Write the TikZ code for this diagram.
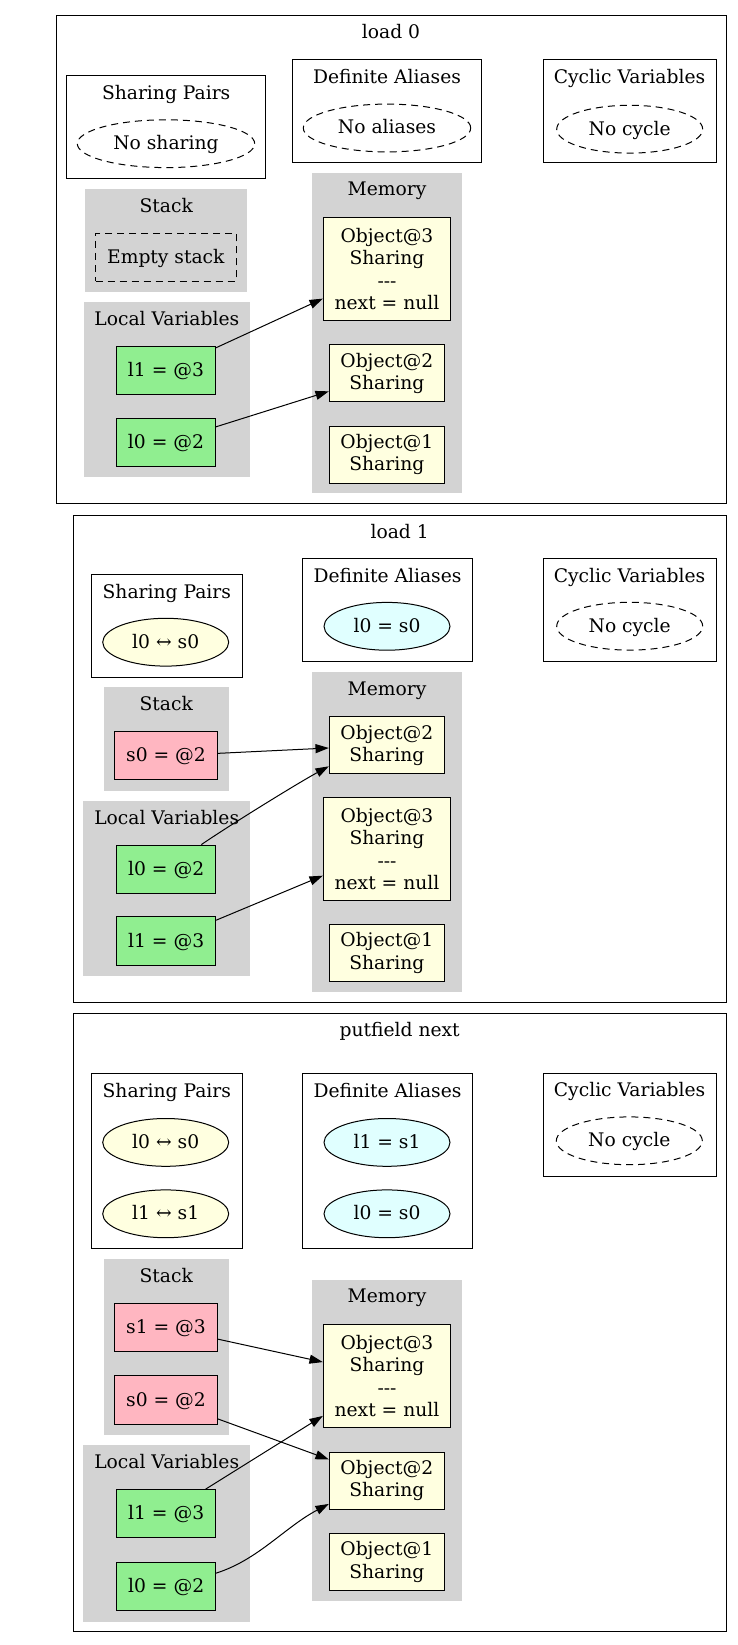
\documentclass[tikz,border=0pt]{standalone}
\usepackage{fontspec}
\setmainfont{DejaVu Serif}
\usetikzlibrary{shapes.geometric,arrows.meta}
\definecolor{gclr}{HTML}{D3D3D3}
\definecolor{vgreen}{HTML}{90EE90}
\definecolor{vpink}{HTML}{FFB6C1}
\definecolor{oyellow}{HTML}{FFFFE0}
\definecolor{acyan}{HTML}{E0FFFF}
\newcommand\gvfont{\fontsize{18.7}{22.4}\selectfont}
\tikzset{
  every node/.style={font=\gvfont, inner sep=0pt},
  frame/.style={draw, line width=1pt},
  grayclu/.style={fill=gclr},
  ttl/.style={anchor=base},
  tl/.style={text height=15pt, text depth=3pt},
  varbox/.style={draw, line width=1pt, rectangle, tl},
  locvar/.style={varbox, fill=vgreen, minimum width=98.5pt, minimum height=48.2pt},
  stkvar/.style={varbox, fill=vpink, minimum width=102.6pt, minimum height=48.2pt},
  objbig/.style={draw, line width=1pt, fill=oyellow, align=center, minimum width=127.4pt, minimum height=103pt},
  objsmall/.style={draw, line width=1pt, fill=oyellow, align=center, minimum width=115pt, minimum height=57pt},
  noell/.style={draw, ellipse, line width=1pt, dash pattern=on 7pt off 5pt, tl, minimum height=47.8pt},
  shell/.style={draw, ellipse, line width=1pt, fill=oyellow, tl, minimum width=126pt, minimum height=47.8pt},
  alell/.style={draw, ellipse, line width=1pt, fill=acyan, tl, minimum width=126pt, minimum height=47.8pt},
  emptybox/.style={draw, rectangle, line width=1pt, dash pattern=on 7pt off 5pt, tl, minimum width=140.3pt, minimum height=47.7pt},
  edge/.style={line width=1pt, -{Triangle[length=13.3pt,width=9pt]}}
}
\begin{document}
\begin{tikzpicture}[x=1pt,y=-1pt]
\useasboundingbox (0,0) rectangle (738,1645);

% ================= Panel 1: load 0 =================
\draw[frame] (56,15.7) rectangle (726,503.3);
\node[ttl] (p1title) at (391,39) {load 0};

\draw[frame] (66.7,76) rectangle (265.7,178.7);
\node[ttl] (p1spt) at (166.2,99.3) {Sharing Pairs};
\node[noell, minimum width=177.4pt] (p1nosh) at (166,143.7) {No sharing};

\draw[frame] (292.3,60) rectangle (481.7,162.7);
\node[ttl] (p1dat) at (387,83.3) {Definite Aliases};
\node[noell, minimum width=167.4pt] (p1noal) at (387,128) {No aliases};

\draw[frame] (543,60) rectangle (716,162.7);
\node[ttl] (p1cvt) at (629.5,83.3) {Cyclic Variables};
\node[noell, minimum width=146pt] (p1nocy) at (629.7,129.2) {No cycle};

\fill[grayclu] (85,189) rectangle (247.3,292.3);
\node[ttl] (p1stt) at (166.2,212.3) {Stack};
\node[emptybox] (p1empty) at (165.85,257.15) {Empty stack};

\fill[grayclu] (83.7,302.3) rectangle (250,477);
\node[ttl] (p1lvt) at (166.8,325.6) {Local Variables};
\node[locvar] (a-l1) at (166,370.7) {l1 = @3};
\node[locvar] (a-l0) at (166,442.5) {l0 = @2};

\fill[grayclu] (312.3,172.7) rectangle (462,493);
\node[ttl] (p1memt) at (387,196) {Memory};
\node[objbig] (a-o3) at (387,269.2) {Object@3\\Sharing\\-{}-{}-\\next = null};
\node[objsmall] (a-o2) at (386.8,373.2) {Object@2\\Sharing};
\node[objsmall] (a-o1) at (386.8,454.5) {Object@1\\Sharing};

\draw[edge] (a-l1) -- (a-o3);
\draw[edge] (a-l0) -- (a-o2);

% ================= Panel 2: load 1 =================
\draw[frame] (73.3,515) rectangle (726,1002.3);
\node[ttl] (p2title) at (399.7,538.3) {load 1};

\draw[frame] (91.3,574.7) rectangle (242.3,677);
\node[ttl] (p2spt) at (166.8,598) {Sharing Pairs};
\node[shell] (p2sh) at (165.7,642.2) {l0 ↔ s0};

\draw[frame] (302.7,558.7) rectangle (472.3,661.3);
\node[ttl] (p2dat) at (387.5,582) {Definite Aliases};
\node[alell] (p2al) at (387,626.3) {l0 = s0};

\draw[frame] (543,558.7) rectangle (716,661.3);
\node[ttl] (p2cvt) at (629.5,582) {Cyclic Variables};
\node[noell, minimum width=146pt] (p2nocy) at (629.7,626.2) {No cycle};

\fill[grayclu] (103.7,687.3) rectangle (228.7,791);
\node[ttl] (p2stt) at (166.2,710.6) {Stack};
\node[stkvar] (b-s0) at (166,755.85) {s0 = @2};

\fill[grayclu] (83.3,800.7) rectangle (250,976);
\node[ttl] (p2lvt) at (166.7,824) {Local Variables};
\node[locvar] (b-l0) at (166.2,869.2) {l0 = @2};
\node[locvar] (b-l1) at (166.2,941) {l1 = @3};

\fill[grayclu] (312,671.7) rectangle (461.7,992);
\node[ttl] (p2memt) at (387,695) {Memory};
\node[objsmall] (b-o2) at (386.8,745.2) {Object@2\\Sharing};
\node[objbig] (b-o3) at (387,849) {Object@3\\Sharing\\-{}-{}-\\next = null};
\node[objsmall] (b-o1) at (386.8,952.8) {Object@1\\Sharing};

\draw[edge] (b-s0) -- (b-o2);
\draw[edge] (b-l0.35) .. controls (230,825) and (298,783) .. (b-o2.200);
\draw[edge] (b-l1) -- (b-o3);

% ================= Panel 3: putfield next =================
\draw[frame] (73.3,1013.2) rectangle (726,1631);
\node[ttl] (p3title) at (399.7,1036.5) {putfield next};

\draw[frame] (91.3,1073.8) rectangle (242.3,1248.5);
\node[ttl] (p3spt) at (166.8,1097.1) {Sharing Pairs};
\node[shell] (p3sh0) at (165.7,1142.4) {l0 ↔ s0};
\node[shell] (p3sh1) at (165.7,1213.8) {l1 ↔ s1};

\draw[frame] (302.7,1073.8) rectangle (472.3,1248.5);
\node[ttl] (p3dat) at (387.5,1097.1) {Definite Aliases};
\node[alell] (p3al1) at (387,1142.4) {l1 = s1};
\node[alell] (p3al0) at (387,1213.8) {l0 = s0};

\draw[frame] (543.3,1073.3) rectangle (716,1176);
\node[ttl] (p3cvt) at (629.6,1096.6) {Cyclic Variables};
\node[noell, minimum width=146pt] (p3nocy) at (629.3,1140.8) {No cycle};

\fill[grayclu] (103.7,1259) rectangle (228.7,1435.2);
\node[ttl] (p3stt) at (166.2,1282.3) {Stack};
\node[stkvar] (c-s1) at (166,1327.85) {s1 = @3};
\node[stkvar] (c-s0) at (166,1400) {s0 = @2};

\fill[grayclu] (83.3,1445.1) rectangle (250,1621.7);
\node[ttl] (p3lvt) at (166.7,1468.4) {Local Variables};
\node[locvar] (c-l1) at (166.2,1513.75) {l1 = @3};
\node[locvar] (c-l0) at (166.2,1586.5) {l0 = @2};

\fill[grayclu] (312,1279.5) rectangle (461.7,1601.2);
\node[ttl] (p3memt) at (387,1302.8) {Memory};
\node[objbig] (c-o3) at (387,1376) {Object@3\\Sharing\\-{}-{}-\\next = null};
\node[objsmall] (c-o2) at (386.8,1480.5) {Object@2\\Sharing};
\node[objsmall] (c-o1) at (386.8,1562.1) {Object@1\\Sharing};

\draw[edge] (c-s1) -- (c-o3);
\draw[edge] (c-s0) -- (c-o2);
\draw[edge] (c-l1) -- (c-o3);
\draw[edge] (c-l0.15) .. controls (258,1560) and (285,1527) .. (c-o2.202);
\end{tikzpicture}
\end{document}
